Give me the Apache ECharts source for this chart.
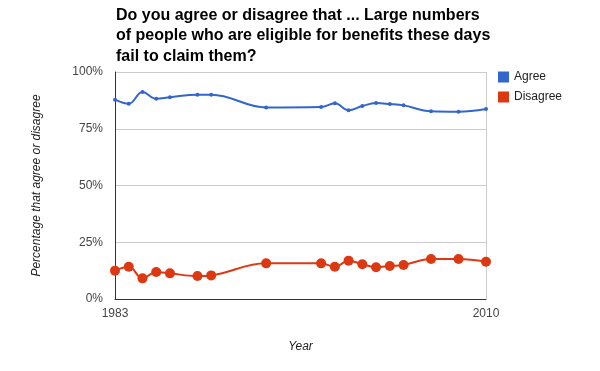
<!DOCTYPE html>
<html><head><meta charset="utf-8">
<script src="https://cdn.jsdelivr.net/npm/echarts@6/dist/echarts.min.js"></script>
<style>html,body{margin:0;padding:0;background:#fff}#c{width:600px;height:371px}</style>
</head><body><div id="c"></div>
<script>
var years = [1983,1984,1985,1986,1987,1989,1990,1994,1998,1999,2000,2001,2002,2003,2004,2006,2008,2010];
var agree = [87.8,86.0,91.2,88.2,88.9,90.0,90.0,84.4,84.6,86.2,83.1,85.0,86.3,85.9,85.3,82.7,82.5,83.7];
var disagree = [12.5,14.2,9.1,11.9,11.3,10.1,10.4,15.7,15.7,14.2,16.9,15.3,14.0,14.5,15.0,17.6,17.6,16.4];
var yTicks = [0,25,50,75,100];
var titleText = 'Do you agree or disagree that ... Large numbers\nof people who are eligible for benefits these days\nfail to claim them?';

function pairs(xs, ys){ return xs.map(function(x,i){return [x, ys[i]];}); }
var font = 'Arial, "Liberation Sans", sans-serif';
var chart = echarts.init(document.getElementById('c'), null, {renderer:'canvas'});
chart.setOption({
  animation:false,
  title:{text:titleText,left:111,top:0,textStyle:{fontFamily:font,fontSize:16,fontWeight:'bold',color:'#000',lineHeight:20.5}},
  legend:{orient:'vertical',left:493,top:66,itemWidth:11,itemHeight:11,itemGap:8,icon:'rect',
    textStyle:{fontFamily:font,fontSize:12,color:'#222'},
    data:[{name:'Agree',icon:'rect'},{name:'Disagree',icon:'rect'}]},
  grid:{left:115,right:114,top:72,bottom:72},
  xAxis:{type:'value',min:years[0],max:years[years.length-1],interval:years[years.length-1]-years[0],
    name:'Year',nameLocation:'middle',nameGap:42,
    nameTextStyle:{fontFamily:font,fontSize:12,fontStyle:'italic',color:'#222'},
    axisLine:{lineStyle:{color:'#333',width:1}},axisTick:{show:false},
    axisLabel:{fontFamily:font,fontSize:12,color:'#444',margin:9,formatter:function(v){return String(v);}},
    splitLine:{show:true,lineStyle:{color:'#ccc'}}},
  yAxis:{type:'value',min:yTicks[0],max:yTicks[yTicks.length-1],interval:25,
    name:'Percentage that agree or disagree',nameLocation:'middle',nameGap:72,
    nameTextStyle:{fontFamily:font,fontSize:12,fontStyle:'italic',color:'#222'},
    axisLine:{show:true,lineStyle:{color:'#333',width:1}},axisTick:{show:false},
    axisLabel:{fontFamily:font,fontSize:12,color:'#444',margin:12,formatter:'{value}%'},
    splitLine:{show:true,lineStyle:{color:'#ccc'}}},
  series:[
    {name:'Agree',type:'line',data:pairs(years,agree),smooth:0.4,symbol:'circle',symbolSize:4,
      itemStyle:{color:'#3366cc'},lineStyle:{color:'#3366cc',width:2}},
    {name:'Disagree',type:'line',data:pairs(years,disagree),smooth:0.4,symbol:'circle',symbolSize:10,
      itemStyle:{color:'#dc3912'},lineStyle:{color:'#dc3912',width:2}}
  ]
});
</script></body></html>
